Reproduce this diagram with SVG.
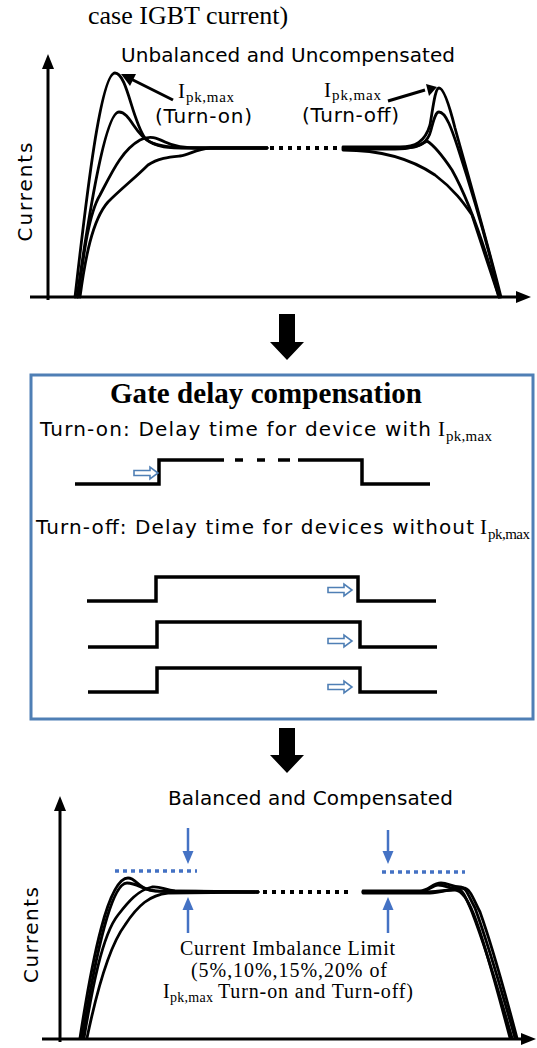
<svg xmlns="http://www.w3.org/2000/svg" width="537" height="1048" viewBox="0 0 537 1048">
  <style>
    .sans { font-family: "DejaVu Sans", "Liberation Sans", sans-serif; font-size: 20px; fill: #000; }
    .serif { font-family: "Liberation Serif", "Times New Roman", serif; fill: #000; }
    .axis { stroke: #000; stroke-width: 3; fill: none; }
    .wave { stroke: #000; stroke-width: 2.8; fill: none; stroke-linejoin: round; stroke-linecap: round; }
    .pulse { stroke: #000; stroke-width: 3.5; fill: none; stroke-linejoin: miter; }
    .dots { stroke: #000; stroke-width: 4; stroke-dasharray: 4 5; fill: none; }
    .limit { stroke: #4472c4; stroke-width: 3.5; stroke-dasharray: 4 4; fill: none; }
    .blue { stroke: #4472c4; stroke-width: 2.5; fill: none; }
    .bluehead { fill: #4472c4; }
    .pointer { stroke: #000; stroke-width: 3; fill: none; }
    .hollow { fill: #fff; stroke: #4f7fb5; stroke-width: 1.6; }
    .frame { fill: none; stroke: #4f7fb5; stroke-width: 3; }
  </style>
  <defs>
    <path id="hollowArrow" d="M0,-2.5 L16,-2.5 L16,-6 L24,0 L16,6 L16,2.5 L0,2.5 Z"/>
  </defs>

  <!-- heading line -->
  <text id="caption" class="serif" x="88" y="24" font-size="26">case IGBT current)</text>

  <!-- upper plot: unbalanced currents -->
  <g id="plot-unbalanced">
    <text class="sans" x="121" y="62" textLength="334">Unbalanced and Uncompensated</text>
    <path class="axis" d="M48,300 V66"/>
    <path d="M48,54 L42,69 L54,69 Z"/>
    <path class="axis" d="M30,297 H518"/>
    <path d="M531,297 L516,291 L516,303 Z"/>
    <text class="sans" transform="translate(32,192) rotate(-90)" text-anchor="middle" font-size="21" textLength="99">Currents</text>

    <!-- turn-on transients -->
    <path class="wave" d="M75,297 C85,210 100,73 115,73 C127,73 132,120 145,138 C155,148 170,148 190,148 L267,148"/>
    <path class="wave" d="M77,297 C88,220 105,112 119,112 C130,112 135,135 150,142 C160,147 175,148 195,148 L267,148"/>
    <path class="wave" d="M78,297 C83,260 88,215 100,195 C112,172 122,150 140,140 C150,135 157,138 165,142 C175,147 185,148 200,148 L267,148"/>
    <path class="wave" d="M80,297 C85,260 92,220 108,202 C122,188 135,178 148,165 C158,158 170,157 180,156 C190,155 195,149 210,148 L267,148"/>
    <path class="dots" d="M270,148 H340"/>
    <!-- turn-off transients -->
    <path class="wave" d="M343,147 L400,147 C415,147 425,142 430,125 C433,108 435,88 439,88 C443,88 448,100 455,128 C468,175 488,245 501,297"/>
    <path class="wave" d="M343,148 L405,148 C418,148 428,143 431,130 C434,118 436,112 439,112 C446,112 452,130 458,148 C470,185 488,245 500,297"/>
    <path class="wave" d="M343,149 L395,149 C410,149 420,146 427,141 C435,146 442,155 452,170 C466,195 480,230 499,297"/>
    <path class="wave" d="M343,150 C380,150 410,158 435,175 C455,190 465,205 472,215 C480,240 490,270 499,297"/>

    <text class="serif" x="178" y="98" font-size="21">I</text>
    <text class="serif" x="186" y="102" font-size="15" textLength="48">pk,max</text>
    <text class="sans" x="155" y="123" textLength="97">(Turn-on)</text>
    <text class="serif" x="324" y="97" font-size="21">I</text>
    <text class="serif" x="332" y="100" font-size="15" textLength="49">pk,max</text>
    <text class="sans" x="302" y="122" textLength="97">(Turn-off)</text>
  </g>

  <!-- gate delay compensation panel -->
  <g id="panel-compensation">
    <rect class="frame" x="31" y="375" width="502" height="344"/>
    <text class="serif" x="110" y="403" font-size="29" font-weight="bold" textLength="312">Gate delay compensation</text>
    <text class="sans" x="40" y="436" font-size="21" textLength="391">Turn-on: Delay time for device with</text>
    <text class="serif" x="438" y="436" font-size="21">I</text>
    <text class="serif" x="446" y="441" font-size="15" textLength="46">pk,max</text>

    <path class="pulse" d="M75,484 H159 V460 H224"/>
    <path class="pulse" d="M235,460 H243 M257,460 H265 M278,460 H290"/>
    <path class="pulse" d="M298,460 H362 V484 H430"/>
    <use href="#hollowArrow" class="hollow" x="134" y="473"/>

    <text class="sans" x="36" y="534" font-size="21" textLength="438">Turn-off: Delay time for devices without</text>
    <text class="serif" x="480" y="534" font-size="21">I</text>
    <text class="serif" x="488" y="539" font-size="15" textLength="42">pk,max</text>

    <path class="pulse" d="M87,601 H156 V577 H358 V601 H436"/>
    <use href="#hollowArrow" class="hollow" x="328" y="590"/>
    <path class="pulse" d="M88,647 H157 V622 H360 V647 H437"/>
    <use href="#hollowArrow" class="hollow" x="328" y="641"/>
    <path class="pulse" d="M88,692 H157 V668 H360 V692 H437"/>
    <use href="#hollowArrow" class="hollow" x="328" y="687"/>
  </g>

  <!-- lower plot: balanced currents -->
  <g id="plot-balanced">
    <text class="sans" x="168" y="805" textLength="285">Balanced and Compensated</text>
    <path class="axis" d="M60,1042 V809"/>
    <path d="M60,796 L54,811 L66,811 Z"/>
    <path class="axis" d="M42,1039 H522"/>
    <path d="M536,1039 L521,1033 L521,1045 Z"/>
    <text class="sans" transform="translate(38,935) rotate(-90)" text-anchor="middle" font-size="21" textLength="96">Currents</text>

    <path class="wave" d="M80,1038 C92,960 108,878 128,878 C136,878 138,888 150,890 C160,892 170,892 180,892 L258,892"/>
    <path class="wave" d="M82,1038 C94,965 110,883 127,883 C138,883 142,890 155,891 L258,892"/>
    <path class="wave" d="M84,1038 C92,990 102,935 118,915 C128,902 138,890 152,887 C160,886 165,890 175,891 L258,892"/>
    <path class="wave" d="M87,1038 C97,990 110,945 125,925 C138,905 150,895 168,893 L258,892"/>
    <path class="dots" d="M263,892 H348" stroke-dasharray="4 4"/>
    <path class="wave" d="M363,891 L420,891 C428,891 433,883 441,883 C448,883 452,887 460,887 C466,887 468,895 475,908 C485,935 500,985 515,1038"/>
    <path class="wave" d="M363,892 L420,892 C428,892 432,885 438,885 C446,885 450,889 457,889 C463,889 466,898 472,912 C482,938 497,985 512,1038"/>
    <path class="wave" d="M363,893 L430,893 C440,893 450,889 463,888 C470,888 473,898 480,912 C490,940 503,985 517,1038"/>
    <path class="wave" d="M363,892 L425,892 C435,892 445,890 455,890 C462,890 468,900 474,915 C484,940 496,985 510,1038"/>

    <path class="limit" d="M115,871 H197"/>
    <path class="limit" d="M382,872 H465"/>

    <text class="serif" x="180" y="955" font-size="20" textLength="215">Current Imbalance Limit</text>
    <text class="serif" x="191" y="977" font-size="20" textLength="196">(5%,10%,15%,20% of</text>
    <text class="serif" x="163" y="998" font-size="20">I</text>
    <text class="serif" x="170" y="1002" font-size="14" textLength="43">pk,max</text>
    <text class="serif" x="218" y="998" font-size="20" textLength="195">Turn-on and Turn-off)</text>
  </g>

  <!-- connectors -->
  <g id="connectors">
    <path class="pointer" d="M173,100 L131,79"/>
    <path d="M121,74 L136,74 L130,86 Z"/>
    <path class="pointer" d="M388,101 L425,90"/>
    <path d="M437,87 L426,84 L429,96 Z"/>
    <path d="M279,314 H295 V342 H304 L287,360 L270,342 H279 Z"/>
    <path d="M279,728 H295 V755 H304 L287,773 L270,755 H279 Z"/>
    <path class="blue" d="M188,828 V853"/>
    <path class="bluehead" d="M182.5,851 H193.5 L188,864 Z"/>
    <path class="blue" d="M188,933 V908"/>
    <path class="bluehead" d="M182.5,910 H193.5 L188,897 Z"/>
    <path class="blue" d="M388,830 V853"/>
    <path class="bluehead" d="M382.5,851 H393.5 L388,864 Z"/>
    <path class="blue" d="M388,933 V908"/>
    <path class="bluehead" d="M382.5,910 H393.5 L388,897 Z"/>
  </g>
</svg>
